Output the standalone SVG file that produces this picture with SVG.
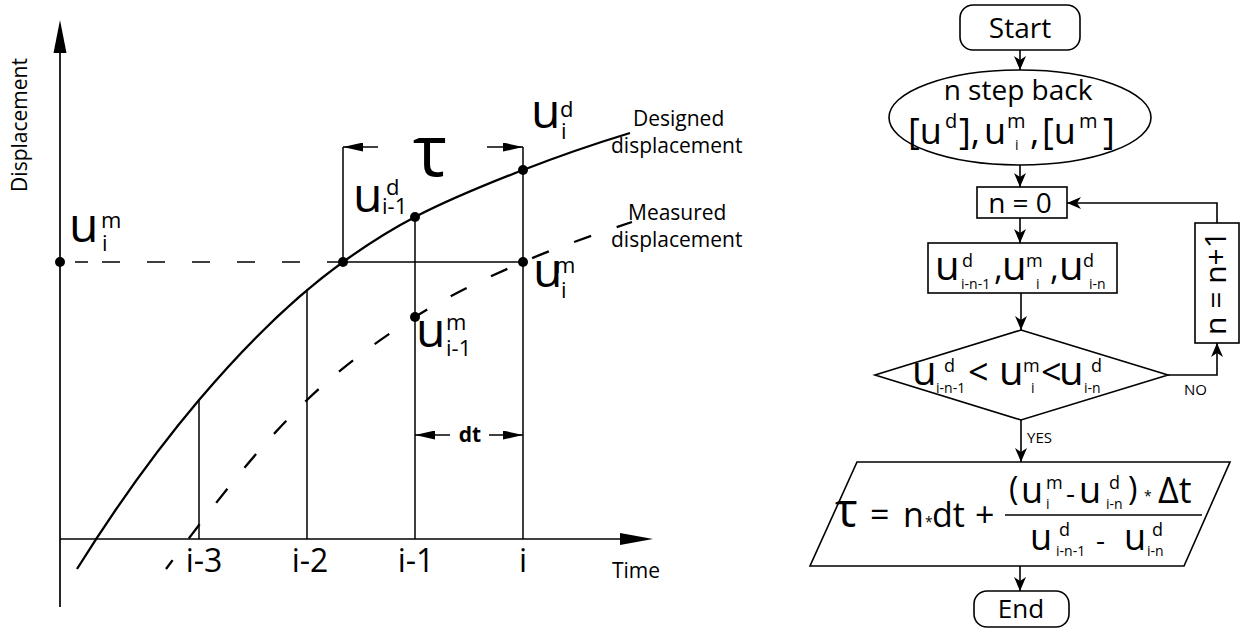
<svg xmlns="http://www.w3.org/2000/svg" width="1241" height="630" viewBox="0 0 1241 630">
<style>
text{font-family:"Open Sans","DejaVu Sans",sans-serif;fill:#000}
.lbl{font-size:21px}
.u{font-size:48px}
.s{font-size:22px}
.tick{font-size:32px;text-anchor:middle}
.fu{font-size:40px}
.fm{font-size:28px}
.fp{font-size:18px}
.fb{font-size:14px}
.sm{font-size:15px}
.ln{stroke:#000;fill:none}
.curve{stroke:#000;fill:none;stroke-width:2.3}
.thin{stroke:#000;fill:none;stroke-width:1.5}
.dash{stroke-dasharray:18 27}
.box{fill:#fff;stroke:#000;stroke-width:1.6}
.con{stroke:#000;fill:none;stroke-width:1.6}
</style>
<defs>
<marker id="ca" viewBox="0 0 20 9" refX="20" refY="4.5" markerWidth="20" markerHeight="9" markerUnits="userSpaceOnUse" orient="auto"><path d="M0,0 L20,4.5 L0,9 z"/></marker>
<marker id="fa" viewBox="0 0 14 12" refX="14" refY="6" markerWidth="14" markerHeight="12" markerUnits="userSpaceOnUse" orient="auto"><path d="M0,0 L14,6 L0,12 L4,6 z"/></marker>
</defs>

<g id="chart">
<g id="axes">
<line class="ln" stroke-width="1.7" x1="60" y1="50" x2="60" y2="607"/>
<polygon points="60,20 53.5,53 66.5,53"/>
<line class="ln" stroke-width="1.7" x1="60" y1="539" x2="622" y2="539"/>
<polygon points="653,539 620,533 620,545"/>
<text class="lbl" transform="translate(27,125) rotate(-90)" text-anchor="middle">Displacement</text>
<text class="lbl" x="612" y="578">Time</text>
</g>
<g id="guides">
<line class="thin" x1="199" y1="400" x2="199" y2="539"/>
<line class="thin" x1="307" y1="289" x2="307" y2="539"/>
<line class="thin" x1="415" y1="217" x2="415" y2="539"/>
<line class="thin" x1="523" y1="147" x2="523" y2="539"/>
<line class="thin" x1="343" y1="147" x2="343" y2="262"/>
<line class="thin" x1="327" y1="262" x2="523" y2="262"/>
<line class="thin" x1="75" y1="262" x2="88" y2="262"/>
<line class="thin dash" x1="102" y1="262" x2="305" y2="262"/>
<line class="thin" x1="378" y1="147" x2="343" y2="147" marker-end="url(#ca)"/>
<line class="thin" x1="487" y1="147" x2="523" y2="147" marker-end="url(#ca)"/>
<line class="thin" x1="450" y1="435" x2="415" y2="435" marker-end="url(#ca)"/>
<line class="thin" x1="489" y1="435" x2="523" y2="435" marker-end="url(#ca)"/>
</g>
<g id="designed-curve">
<path class="curve" d="M77,569 C117.7,503.9 158.3,448 199,400 C247,343.4 295,296.6 343,262 C367,244.7 391,229.5 415,217 C451,198.3 487,184 523,170 C557.7,156.5 592.3,144.5 630,133"/>
<text class="lbl" x="633" y="126">Designed</text>
<text class="lbl" x="611" y="153">displacement</text>
</g>
<g id="measured-curve">
<path class="curve dash" stroke-dashoffset="7" d="M166,569 C213,505.5 260,444.7 307,400 C343,365.8 379,339.7 415,317 C451,294.3 487,277.5 523,262 C559.3,246.4 595.7,234.3 632,222"/>
<text class="lbl" x="628" y="220">Measured</text>
<text class="lbl" x="611" y="247">displacement</text>
</g>
<g id="points">
<circle cx="60" cy="262" r="5"/>
<circle cx="343" cy="262" r="5"/>
<circle cx="415" cy="217" r="5"/>
<circle cx="523" cy="170" r="5"/>
<circle cx="523" cy="262" r="5"/>
<circle cx="415" cy="317" r="5"/>
</g>
<g id="labels">
<text class="u" x="69" y="242">u<tspan class="s" x="101" y="228">m</tspan><tspan class="s" x="102" y="251">i</tspan></text>
<text class="u" x="353" y="212">u<tspan class="s" x="386" y="195">d</tspan><tspan class="s" x="382" y="214">i-1</tspan></text>
<text class="u" x="531" y="128">u<tspan class="s" x="560" y="117">d</tspan><tspan class="s" x="561" y="139">i</tspan></text>
<text class="u" x="533" y="287">u<tspan class="s" x="555" y="273">m</tspan><tspan class="s" x="561" y="298">i</tspan></text>
<text class="u" x="416" y="347">u<tspan class="s" x="446" y="330">m</tspan><tspan class="s" x="446" y="356">i-1</tspan></text>
<text style="font-size:72px" x="413" y="176">τ</text>
<text style="font-size:21px;font-weight:bold" x="470" y="442" text-anchor="middle">dt</text>
<text class="tick" x="204" y="572">i-3</text>
<text class="tick" x="310" y="572">i-2</text>
<text class="tick" x="416" y="572">i-1</text>
<text class="tick" x="523" y="572">i</text>
</g>
</g>

<g id="connectors">
<line class="con" x1="1020" y1="50" x2="1020" y2="70" marker-end="url(#fa)"/>
<line class="con" x1="1020" y1="165" x2="1020" y2="187" marker-end="url(#fa)"/>
<line class="con" x1="1020" y1="218" x2="1020" y2="243" marker-end="url(#fa)"/>
<line class="con" x1="1021" y1="293" x2="1021" y2="330" marker-end="url(#fa)"/>
<line class="con" x1="1021" y1="420" x2="1021" y2="462" marker-end="url(#fa)"/>
<polyline class="con" points="1168,375 1217,375 1217,343" marker-end="url(#fa)"/>
<polyline class="con" points="1217,223 1217,203 1067,203" marker-end="url(#fa)"/>
<line class="con" x1="1020" y1="566" x2="1020" y2="591" marker-end="url(#fa)"/>
<text class="sm" x="1027" y="443">YES</text>
<text class="sm" x="1184" y="395">NO</text>
</g>

<g id="start">
<rect class="box" x="960" y="5" width="120" height="45" rx="13"/>
<text class="fm" x="1020" y="38" text-anchor="middle">Start</text>
</g>

<g id="input">
<ellipse class="box" cx="1020" cy="117.5" rx="131" ry="47.5"/>
<text class="fm" x="1018" y="100" text-anchor="middle">n step back</text>
<text style="font-size:36px" x="908" y="144">[u<tspan style="font-size:20px" x="945" y="128">d</tspan><tspan x="959" y="144">],</tspan><tspan x="984" y="144">u</tspan><tspan style="font-size:20px" x="1007" y="128">m</tspan><tspan style="font-size:14px" x="1015" y="150">i</tspan><tspan x="1030" y="144">,</tspan><tspan x="1042" y="144">[u</tspan><tspan style="font-size:20px" x="1079" y="128">m</tspan><tspan x="1103" y="144">]</tspan></text>
</g>

<g id="init">
<rect class="box" x="977" y="187" width="90" height="31"/>
<text class="fm" x="1020" y="213" text-anchor="middle">n = 0</text>
</g>

<g id="values">
<rect class="box" x="928" y="243" width="189" height="50"/>
<text class="fu" x="935" y="280">u<tspan class="fp" x="962" y="267">d</tspan><tspan class="fb" x="961" y="289">i-n-1</tspan><tspan style="font-size:34px" x="994" y="280">,</tspan><tspan x="1002" y="280">u</tspan><tspan class="fp" x="1026" y="267">m</tspan><tspan class="fb" x="1036" y="289">i</tspan><tspan style="font-size:34px" x="1050" y="280">,</tspan><tspan x="1059" y="280">u</tspan><tspan class="fp" x="1083" y="267">d</tspan><tspan class="fb" x="1089" y="289">i-n</tspan></text>
</g>

<g id="decision">
<polygon class="box" points="1021,330 1168,375 1021,420 875,375"/>
<text class="fu" x="912" y="385">u<tspan class="fp" x="944" y="372">d</tspan><tspan class="fb" x="936" y="393">i-n-1</tspan><tspan style="font-size:36px" x="968" y="385">&lt;</tspan><tspan x="999" y="385">u</tspan><tspan class="fp" x="1023" y="372">m</tspan><tspan class="fb" x="1031" y="393">i</tspan><tspan style="font-size:36px" x="1041" y="385">&lt;</tspan><tspan x="1059" y="385">u</tspan><tspan class="fp" x="1091" y="372">d</tspan><tspan class="fb" x="1084" y="393">i-n</tspan></text>
</g>

<g id="increment">
<rect class="box" x="1195" y="223" width="44" height="120"/>
<text style="font-size:30px" transform="translate(1226,283) rotate(-90)" text-anchor="middle">n = n+1</text>
</g>

<g id="result">
<polygon class="box" points="857,462 1230,462 1184,566 810,566"/>
<text style="font-size:34px" x="835" y="527"><tspan style="font-size:48px">τ</tspan><tspan x="870">=</tspan><tspan x="903">n</tspan><tspan style="font-size:14px" x="925">*</tspan><tspan x="932">dt</tspan><tspan x="975">+</tspan></text>
<line class="con" x1="1005" y1="515" x2="1202" y2="515"/>
<text style="font-size:36px" x="1009" y="500"><tspan style="font-size:32px">(</tspan><tspan x="1021" y="503">u</tspan><tspan class="fp" x="1046" y="489">m</tspan><tspan class="fb" x="1046" y="509">i</tspan><tspan style="font-size:28px" x="1066" y="503">-</tspan><tspan x="1079" y="503">u</tspan><tspan class="fp" x="1109" y="489">d</tspan><tspan class="fb" x="1106" y="509">i-n</tspan><tspan style="font-size:32px" x="1128" y="500">)</tspan><tspan style="font-size:14px" x="1144" y="501">*</tspan><tspan x="1158" y="503">Δt</tspan></text>
<text style="font-size:36px" x="1030" y="550">u<tspan class="fp" x="1059" y="536">d</tspan><tspan class="fb" x="1056" y="556">i-n-1</tspan><tspan style="font-size:28px" x="1096" y="550">-</tspan><tspan x="1124" y="550">u</tspan><tspan class="fp" x="1152" y="536">d</tspan><tspan class="fb" x="1147" y="556">i-n</tspan></text>
</g>

<g id="end">
<rect class="box" x="974" y="591" width="95" height="36" rx="13"/>
<text style="font-size:26px" x="1021" y="618" text-anchor="middle">End</text>
</g>
</svg>
